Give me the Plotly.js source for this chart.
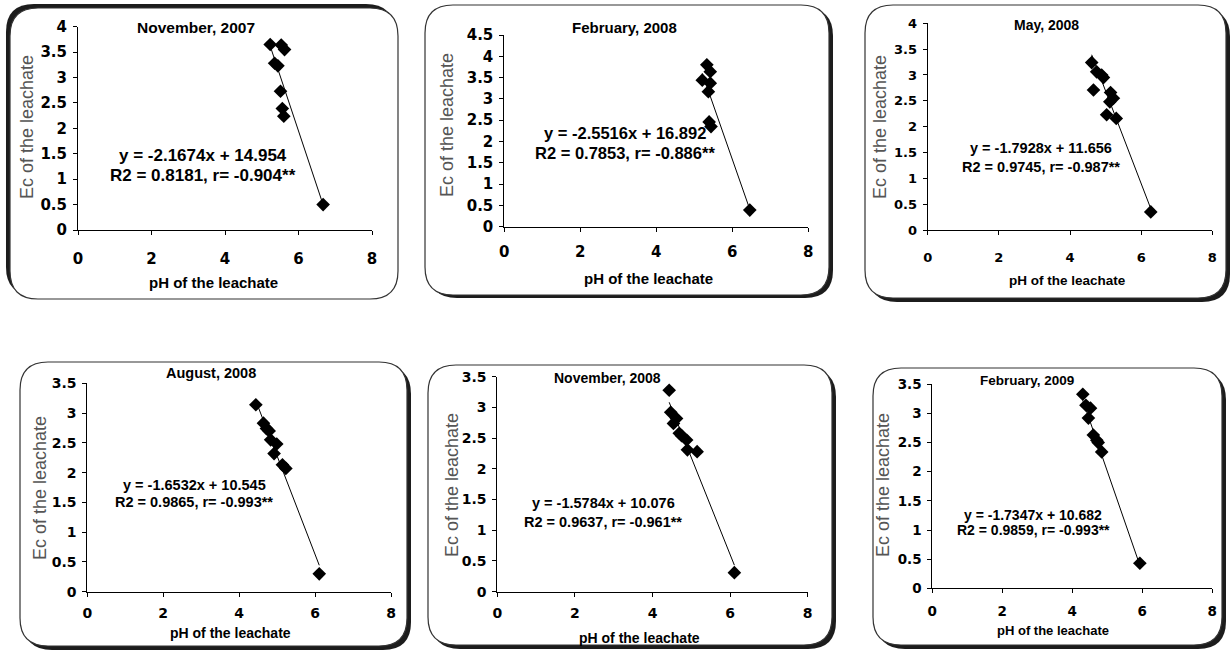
<!DOCTYPE html>
<html><head><meta charset="utf-8">
<script src="https://cdn.plot.ly/plotly-3.0.1.min.js"></script>
<style>html,body{margin:0;padding:0;background:#fff;}#chart{width:1231px;height:651px;}</style>
</head><body><div id="chart"></div>
<script>
// ---- Data ----
const panelTitles = ["November, 2007", "February, 2008", "May, 2008", "August, 2008", "November, 2008", "February, 2009"];

const nov07_ph = [5.23, 5.53, 5.62, 5.35, 5.44, 5.51, 5.56, 5.60, 6.67];
const nov07_ec = [3.65, 3.64, 3.55, 3.28, 3.23, 2.73, 2.39, 2.24, 0.50];

const feb08_ph = [5.33, 5.42, 5.21, 5.42, 5.37, 5.39, 5.44, 6.46];
const feb08_ec = [3.80, 3.64, 3.44, 3.37, 3.17, 2.46, 2.35, 0.39];

const may08_ph = [4.61, 4.75, 4.89, 4.94, 4.66, 5.14, 5.12, 5.22, 5.03, 5.30, 6.27];
const may08_ec = [3.24, 3.06, 3.00, 2.95, 2.71, 2.66, 2.48, 2.55, 2.23, 2.16, 0.35];

const aug08_ph = [4.44, 4.64, 4.72, 4.79, 4.83, 4.99, 4.92, 5.14, 5.23, 6.11];
const aug08_ec = [3.14, 2.83, 2.74, 2.70, 2.55, 2.48, 2.32, 2.13, 2.07, 0.30];

const nov08_ph = [4.43, 4.47, 4.62, 4.54, 4.69, 4.75, 4.88, 4.90, 5.15, 6.11];
const nov08_ec = [3.28, 2.92, 2.82, 2.74, 2.58, 2.54, 2.47, 2.31, 2.28, 0.31];

const feb09_ph = [4.30, 4.39, 4.52, 4.46, 4.60, 4.70, 4.74, 4.84, 5.93];
const feb09_ec = [3.33, 3.14, 3.09, 2.92, 2.63, 2.54, 2.50, 2.34, 0.43];

// regression equations printed on the chart
const slopes     = [-2.1674, -2.5516, -1.7928, -1.6532, -1.5784, -1.7347];
const intercepts = [14.954, 16.892, 11.656, 10.545, 10.076, 10.682];
const eqLines    = ["y = -2.1674x + 14.954", "y = -2.5516x + 16.892", "y = -1.7928x + 11.656",
                    "y = -1.6532x + 10.545", "y = -1.5784x + 10.076", "y = -1.7347x + 10.682"];
const statLines  = ["R2 = 0.8181, r= -0.904**", "R2 = 0.7853, r= -0.886**", "R2 = 0.9745, r= -0.987**",
                    "R2 = 0.9865, r= -0.993**", "R2 = 0.9637, r= -0.961**", "R2 = 0.9859, r= -0.993**"];
const yMax   = [4, 4.5, 4, 3.5, 3.5, 3.5];
const xTitle = "pH of the leachate";
const yTitle = "Ec of the leachate";

const phSets = [nov07_ph, feb08_ph, may08_ph, aug08_ph, nov08_ph, feb09_ph];
const ecSets = [nov07_ec, feb08_ec, may08_ec, aug08_ec, nov08_ec, feb09_ec];

// ---- Layout geometry (pixels) ----
const W = 1231, H = 651;
const X = v => v / W, Y = v => 1 - v / H;
// plot areas: [x0, x1, yTop, yBottom]
const areas = [[78, 372, 26.7, 230], [504.3, 808.3, 35, 226.7], [927.7, 1212.3, 23.3, 230],
               [87.3, 391, 383.3, 591.7], [497.3, 807.7, 376.7, 591.7], [932.3, 1212.3, 384.3, 588.3]];
// frames: [x0,y0,x1,y1, shadowDx, shadowDy]
const frames = [[10, 8, 398, 299, -4, -4], [425, 5, 829, 295, 4, 3], [865, 5, 1226, 298, 4, 4],
                [20, 362, 407, 646, 4, 4], [428, 365, 832, 645, 4, 4], [873, 368, 1222, 645, 4, 4]];
const eqPos    = [[203, 155, 175], [625, 133, 153], [1041, 148, 167], [194, 485, 502], [603, 503, 522], [1033, 515, 530]];
const eqFont   = [17, 16.5, 14.5, 14.5, 14.5, 14];
const titlePos = [[196, 27], [624, 27], [1046, 25], [211, 373], [607, 378], [1027, 380]];
const titleFont= [15.5, 15, 14, 14.5, 14, 13.5];
const yTitPos  = [[27, 127], [447, 125], [880, 127], [40, 488], [452, 485], [883, 485]];
const xTitPos  = [[213, 283], [648, 278], [1067, 280], [230, 633], [640, 638], [1053, 630]];
const xTitFont = [15, 15, 13.5, 14, 14, 13];
const tickFont = [15, 15, 13, 14, 14, 13.5];
const xStand   = [11, 7, 11, 4, 4, 6];

function rr(x0, y0, x1, y1, r) {
  const f = v => X(v).toFixed(5), g = v => Y(v).toFixed(5);
  return `M ${f(x0+r)},${g(y0)} L ${f(x1-r)},${g(y0)} Q ${f(x1)},${g(y0)} ${f(x1)},${g(y0+r)} ` +
         `L ${f(x1)},${g(y1-r)} Q ${f(x1)},${g(y1)} ${f(x1-r)},${g(y1)} L ${f(x0+r)},${g(y1)} ` +
         `Q ${f(x0)},${g(y1)} ${f(x0)},${g(y1-r)} L ${f(x0)},${g(y0+r)} Q ${f(x0)},${g(y0)} ${f(x0+r)},${g(y0)} Z`;
}

const FONT = "Liberation Sans, Arial, sans-serif";
const TICKFONT = "DejaVu Sans, sans-serif";
const traces = [], shapes = [], annotations = [];
const layout = {
  width: W, height: H, margin: {l: 0, r: 0, t: 0, b: 0},
  paper_bgcolor: "#ffffff", plot_bgcolor: "rgba(0,0,0,0)",
  showlegend: false, font: {family: FONT, color: "#000"}
};

for (let i = 0; i < 6; i++) {
  const n = i + 1, xa = "xaxis" + (n === 1 ? "" : n), ya = "yaxis" + (n === 1 ? "" : n);
  const xr = "x" + (n === 1 ? "" : n), yr = "y" + (n === 1 ? "" : n);
  const [ax0, ax1, ayT, ayB] = areas[i];
  layout[xa] = {domain: [X(ax0), X(ax1)], range: [0, 8], dtick: 2, anchor: yr,
    showgrid: false, zeroline: false, showline: true, linecolor: "#000", linewidth: 1,
    ticks: "outside", ticklen: 4, tickcolor: "#000", ticklabelstandoff: xStand[i],
    tickfont: {family: TICKFONT, size: tickFont[i], color: "#000", weight: 700}, fixedrange: true};
  layout[ya] = {domain: [Y(ayB), Y(ayT)], range: [0, yMax[i]], dtick: 0.5, anchor: xr,
    showgrid: false, zeroline: false, showline: true, linecolor: "#000", linewidth: 1,
    ticks: "outside", ticklen: 4, tickcolor: "#000", ticklabelstandoff: 3,
    tickfont: {family: TICKFONT, size: tickFont[i], color: "#000", weight: 700}, fixedrange: true};

  const ph = phSets[i], ec = ecSets[i];
  const xmin = Math.min(...ph), xmax = Math.max(...ph);
  traces.push({x: [xmin, xmax], y: [slopes[i]*xmin + intercepts[i], slopes[i]*xmax + intercepts[i]],
    xaxis: xr, yaxis: yr, mode: "lines", line: {color: "#000", width: 1}, hoverinfo: "skip", cliponaxis: false});
  traces.push({x: ph, y: ec, xaxis: xr, yaxis: yr, mode: "markers", cliponaxis: false,
    marker: {symbol: "diamond", size: 10.5, color: "#000"}});

  const [fx0, fy0, fx1, fy1, dx, dy] = frames[i];
  shapes.push({type: "path", xref: "paper", yref: "paper", layer: "below",
    path: rr(fx0 + dx, fy0 + dy, fx1 + dx, fy1 + dy, 28), fillcolor: "#1c1c1c", line: {width: 0}});
  shapes.push({type: "path", xref: "paper", yref: "paper", layer: "below",
    path: rr(fx0, fy0, fx1, fy1, 28), fillcolor: "#ffffff", line: {color: "#333", width: 1.2}});

  annotations.push({xref: "paper", yref: "paper", x: X(eqPos[i][0]), y: Y(eqPos[i][1]), text: eqLines[i],
    showarrow: false, xanchor: "center", yanchor: "middle", font: {size: eqFont[i], weight: 700, color: "#000"}});
  annotations.push({xref: "paper", yref: "paper", x: X(eqPos[i][0]), y: Y(eqPos[i][2]), text: statLines[i],
    showarrow: false, xanchor: "center", yanchor: "middle", font: {size: eqFont[i], weight: 700, color: "#000"}});
  annotations.push({xref: "paper", yref: "paper", x: X(titlePos[i][0]), y: Y(titlePos[i][1]), text: panelTitles[i],
    showarrow: false, xanchor: "center", yanchor: "middle", font: {size: titleFont[i], weight: 700, color: "#000"}});
  annotations.push({xref: "paper", yref: "paper", x: X(yTitPos[i][0]), y: Y(yTitPos[i][1]), text: yTitle, textangle: -90,
    showarrow: false, xanchor: "center", yanchor: "middle", font: {size: 18, color: "#555"}});
  annotations.push({xref: "paper", yref: "paper", x: X(xTitPos[i][0]), y: Y(xTitPos[i][1]), text: xTitle,
    showarrow: false, xanchor: "center", yanchor: "middle", font: {size: xTitFont[i], weight: 700, color: "#000"}});
}
layout.shapes = shapes;
layout.annotations = annotations;
Plotly.newPlot("chart", traces, layout, {displayModeBar: false, staticPlot: true});
</script></body></html>
